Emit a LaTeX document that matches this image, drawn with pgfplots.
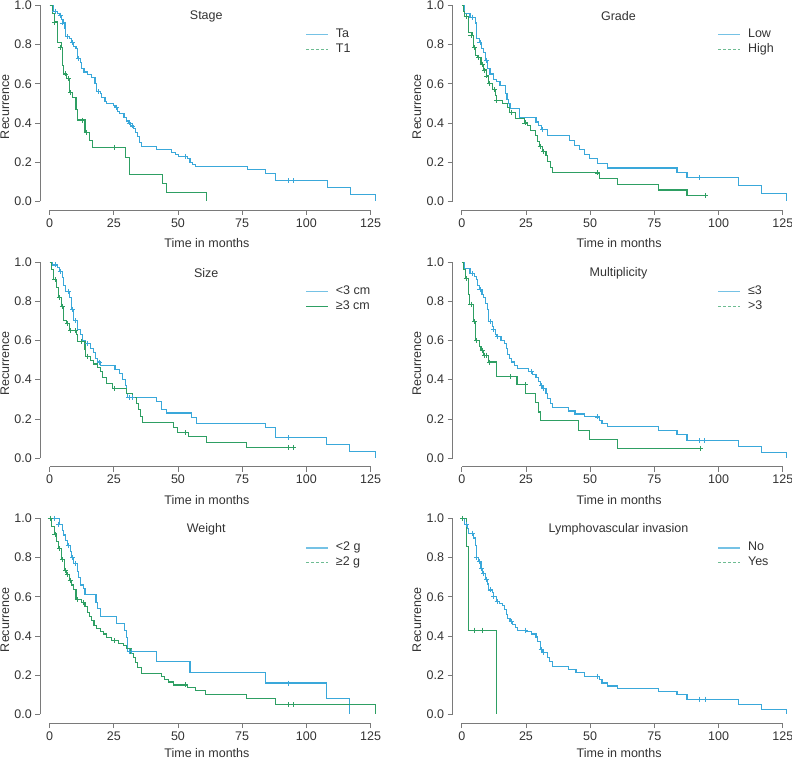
\documentclass[border=0pt]{standalone}
\usepackage{pgfplots}
\pgfplotsset{compat=1.18}
\usepackage{fontspec}
\setmainfont{Liberation Sans}
\definecolor{axisgray}{HTML}{7A7A7A}
\definecolor{labelgray}{HTML}{333333}
\definecolor{kmblue}{HTML}{3AA8DA}
\definecolor{kmgreen}{HTML}{2E9F63}
\newcommand{\fs}{\fontsize{12.5}{14}\selectfont}
\pgfplotsset{
  kmpanel/.style={
    scale only axis, width=338pt, height=206.6pt,
    xmin=-3.6, xmax=128, ymin=-0.044, ymax=1.01,
    axis lines*=left, axis line style={draw=none},
    xtick={0,25,50,75,100,125}, ytick={0,0.2,0.4,0.6,0.8,1.0},
    tick align=outside, major tick length=5pt,
    tick style={axisgray, line width=0.7pt},
    ticklabel style={font=\fs, text=labelgray},
    /pgf/number format/assume math mode=true,
    yticklabel style={/pgf/number format/.cd, fixed, fixed zerofill, precision=1},
    xlabel={Time in months}, ylabel={Recurrence},
    every axis x label/.style={at={([yshift=-33pt]axis description cs:0.493,0)}, anchor=center, font=\fs, text=labelgray},
    every axis y label/.style={at={([xshift=-35.5pt]axis description cs:0,0.5)}, rotate=90, anchor=center, font=\fs, text=labelgray},
    every axis title/.style={at={(axis description cs:0.491,0.938)}, anchor=center, font=\fs, text=labelgray},
    clip=false,
    legend cell align=left,
    legend style={at={(axis description cs:0.784,0.878)}, anchor=north west, draw=none, fill=none,
      font=\fs, text=labelgray, row sep=2.7pt, column sep=7pt, inner sep=0pt,
      nodes={inner sep=0pt, text height=9pt, text depth=3pt}},
    legend image code/.code={\draw[#1] (0pt,0pt) -- (22pt,0pt);},
    after end axis/.code={
      \draw[axisgray, line width=0.7pt] (axis cs:0,-0.044) -- (axis cs:125,-0.044);
      \draw[axisgray, line width=0.7pt] (axis cs:-3.6,0) -- (axis cs:-3.6,1);
    },
  },
  bl/.style={kmblue, line width=1.1pt, const plot, no marks, forget plot},
  gr/.style={kmgreen, line width=1.1pt, const plot, no marks, forget plot},
  bc/.style={kmblue, only marks, mark=+, mark size=2.5pt, line width=0.8pt, forget plot},
  gc/.style={kmgreen, only marks, mark=+, mark size=2.5pt, line width=0.8pt, forget plot},
  lb/.style={kmblue!70!white, line width=1.4pt},
  lgd/.style={kmgreen!70!white, line width=1.4pt, dash pattern=on 3pt off 2pt},
  lgs/.style={kmgreen, line width=1.4pt},
}
\begin{document}
\begin{tikzpicture}
\path[use as bounding box] (0pt,0pt) rectangle (792pt,761pt);

% ---------------- Stage
\begin{axis}[kmpanel, at={(40.3pt,551pt)}, anchor=south west, title={Stage}]
\addlegendimage{lb}\addlegendentry{Ta}
\addlegendimage{lgd}\addlegendentry{T1}
\addplot[bl] coordinates {(0,1) (1.5,0.97) (3,0.96) (4,0.95) (4.5,0.93) (5.4,0.91) (6,0.88) (6.3,0.84) (7.6,0.83) (8.4,0.81) (9.3,0.79) (10.3,0.78) (10.8,0.73) (11.9,0.71) (12.5,0.68) (13.4,0.66) (14.7,0.645) (16.4,0.63) (17.7,0.60) (18.4,0.56) (19.7,0.55) (20.3,0.53) (21.6,0.51) (22,0.50) (24.8,0.49) (25.5,0.48) (26.4,0.46) (27.4,0.45) (29,0.43) (29.8,0.41) (30.7,0.40) (31.6,0.385) (32.6,0.37) (33.3,0.35) (34.3,0.33) (35,0.30) (35.9,0.28) (41.7,0.265) (47.6,0.25) (48.9,0.24) (50.2,0.23) (53.7,0.22) (54.7,0.20) (55.7,0.19) (57,0.177) (77,0.162) (84,0.143) (88,0.105) (108.2,0.07) (117,0.035) (127,0)};
\addplot[bc] coordinates {(2.1,0.97) (4.1,0.95) (5,0.91) (6.9,0.84) (8.9,0.81) (11.2,0.73) (19,0.56) (26.2,0.48) (31.1,0.40) (32.3,0.385) (52.8,0.23) (93,0.105) (95,0.105)};
\addplot[gr] coordinates {(0,1) (1.2,0.96) (1.9,0.915) (3.1,0.81) (4.5,0.785) (5,0.695) (5.6,0.65) (6.7,0.625) (7.7,0.555) (9,0.53) (10.3,0.47) (11,0.415) (13.8,0.35) (15.5,0.31) (16.7,0.275) (29.4,0.225) (31,0.135) (43.9,0.09) (45.6,0.045) (61.2,0)};
\addplot[gc] coordinates {(1.9,0.915) (4.1,0.785) (6.3,0.65) (7.3,0.625) (8.3,0.555) (12.9,0.415) (14.2,0.35) (25.3,0.275)};
\end{axis}

% ---------------- Grade
\begin{axis}[kmpanel, at={(452.5pt,551pt)}, anchor=south west, title={Grade}]
\addlegendimage{lb}\addlegendentry{Low}
\addlegendimage{lgd}\addlegendentry{High}
\addplot[bl] coordinates {(0,1) (1,0.96) (3.2,0.94) (5.2,0.91) (5.8,0.83) (6.9,0.81) (7.8,0.78) (8.4,0.76) (9.2,0.72) (10.1,0.68) (11,0.65) (12.3,0.62) (13.6,0.61) (14.9,0.59) (17,0.55) (17.6,0.52) (18.2,0.50) (18.8,0.475) (22.4,0.43) (28.9,0.405) (30,0.385) (30.9,0.365) (33.5,0.335) (41.9,0.31) (43.9,0.285) (45.8,0.265) (47.8,0.24) (49.7,0.22) (52.9,0.195) (56.9,0.17) (83.8,0.147) (87.7,0.122) (107.7,0.082) (116.6,0.04) (126.6,0)};
\addplot[bc] coordinates {(4,0.94) (7.1,0.81) (9.7,0.72) (31.5,0.365) (92.5,0.122)};
\addplot[gr] coordinates {(0,1) (0.8,0.97) (1,0.945) (2.7,0.86) (4,0.845) (4.6,0.785) (5.3,0.745) (6.2,0.735) (7.5,0.70) (8.4,0.67) (9.5,0.64) (10.4,0.60) (12.1,0.57) (13.1,0.54) (13.4,0.515) (16,0.50) (17.9,0.48) (18.6,0.455) (20.8,0.425) (24.4,0.40) (25.7,0.385) (26.6,0.36) (28.7,0.335) (29.6,0.305) (30.2,0.28) (31.5,0.255) (32.8,0.235) (33.5,0.205) (34.4,0.175) (35.4,0.145) (53.6,0.115) (60.7,0.085) (76.6,0.058) (87.7,0.03) (95.1,0.03)};
\addplot[gc] coordinates {(1.7,0.945) (3.6,0.845) (4.9,0.785) (6.6,0.735) (7.9,0.70) (8.8,0.67) (9.7,0.64) (10.8,0.60) (12.7,0.57) (13.6,0.515) (19.2,0.455) (24.6,0.40) (30.5,0.28) (31.8,0.255) (53,0.145) (95,0.03)};
\end{axis}

% ---------------- Size
\begin{axis}[kmpanel, at={(40.3pt,294.3pt)}, anchor=south west, title={Size}]
\addlegendimage{lb}\addlegendentry{<3 cm}
\addlegendimage{lgs}\addlegendentry{≥3 cm}
\addplot[bl] coordinates {(0,1) (1.1,0.985) (3,0.97) (3.8,0.95) (5,0.92) (5.6,0.88) (6.3,0.85) (7.7,0.82) (8.6,0.76) (9.5,0.70) (10.8,0.655) (11.9,0.63) (12.8,0.60) (13.8,0.585) (16,0.56) (17.1,0.54) (18,0.51) (18.6,0.49) (19.7,0.47) (25.5,0.45) (27.2,0.43) (28.5,0.40) (29.4,0.37) (30,0.33) (30.4,0.31) (41.7,0.29) (43.7,0.25) (45.6,0.23) (55.1,0.205) (57.3,0.177) (84,0.155) (88,0.103) (108,0.07) (116.8,0.035) (127,0)};
\addplot[bc] coordinates {(2.2,0.985) (4.1,0.95) (7.3,0.85) (9,0.76) (10.2,0.70) (14.7,0.585) (19.3,0.49) (30.9,0.31) (32.2,0.31) (93,0.103)};
\addplot[gr] coordinates {(0,1) (0.8,0.96) (1.5,0.91) (2.8,0.87) (3.4,0.82) (4.5,0.775) (5.6,0.70) (6.7,0.685) (7.6,0.65) (10.6,0.63) (10.8,0.595) (13.8,0.555) (14.1,0.52) (15.8,0.50) (17.1,0.48) (18.6,0.46) (19.7,0.44) (20.7,0.41) (22,0.38) (24.6,0.355) (30,0.33) (32.4,0.31) (33.7,0.28) (34.6,0.25) (35.3,0.21) (36.3,0.18) (48.2,0.155) (49.9,0.13) (54.1,0.11) (61.2,0.08) (76.8,0.055) (95.2,0.055)};
\addplot[gc] coordinates {(2.1,0.91) (3.8,0.82) (5,0.775) (7.1,0.685) (8.3,0.65) (10,0.65) (12.5,0.595) (14.7,0.52) (25.3,0.355) (52.8,0.13) (93,0.055) (95,0.055)};
\end{axis}

% ---------------- Multiplicity
\begin{axis}[kmpanel, at={(452.5pt,294.3pt)}, anchor=south west, title={Multiplicity}]
\addlegendimage{lb}\addlegendentry{≤3}
\addlegendimage{lgd}\addlegendentry{>3}
\addplot[bl] coordinates {(0,1) (1,0.965) (3.2,0.94) (4.9,0.925) (5.6,0.91) (6.1,0.88) (6.9,0.86) (7.9,0.835) (8.4,0.82) (9.2,0.79) (10.1,0.76) (10.5,0.695) (11.8,0.67) (12.3,0.655) (13.1,0.63) (13.6,0.62) (15.3,0.60) (16.6,0.585) (17.3,0.56) (17.9,0.53) (18.6,0.51) (19.5,0.49) (20.5,0.47) (21.8,0.455) (26.1,0.44) (27.4,0.425) (28.9,0.41) (30,0.39) (30.6,0.37) (31.5,0.355) (32.8,0.33) (33.5,0.305) (34.4,0.28) (35.4,0.26) (41.7,0.24) (44.1,0.225) (47.8,0.21) (53.6,0.19) (54.6,0.175) (56.6,0.16) (76.6,0.14) (83.8,0.12) (87.7,0.088) (107.7,0.06) (116.6,0.03) (126.6,0)};
\addplot[bc] coordinates {(4,0.94) (7.1,0.86) (11,0.695) (12.5,0.655) (14,0.62) (27,0.44) (31.1,0.37) (31.9,0.355) (53,0.21) (92.5,0.088) (94.5,0.088)};
\addplot[gr] coordinates {(0,1) (0.8,0.96) (1.3,0.915) (2.7,0.835) (3,0.785) (4.6,0.695) (5.5,0.60) (6.9,0.57) (7.5,0.55) (8.4,0.525) (10.4,0.49) (13.7,0.415) (21.5,0.375) (24.7,0.33) (28.7,0.285) (30,0.235) (30.6,0.19) (45.5,0.14) (49.7,0.095) (60.7,0.048) (93.2,0.048)};
\addplot[gc] coordinates {(1.7,0.915) (3.6,0.785) (4.9,0.695) (5.8,0.60) (7.9,0.55) (8.8,0.525) (9.7,0.525) (10.8,0.49) (19,0.415) (24.7,0.375) (93,0.048)};
\end{axis}

% ---------------- Weight
\begin{axis}[kmpanel, at={(40.3pt,38pt)}, anchor=south west, title={Weight},
  every axis x label/.append style={at={([yshift=-30pt]axis description cs:0.493,0)}}]
\addlegendimage{lb}\addlegendentry{<2 g}
\addlegendimage{lgd}\addlegendentry{≥2 g}
\addplot[bl] coordinates {(0,1) (3.8,0.97) (5,0.94) (5.6,0.915) (6.3,0.885) (7.1,0.86) (8,0.83) (8.4,0.80) (9.5,0.77) (10.8,0.73) (11.2,0.70) (12.2,0.66) (13.2,0.64) (13.8,0.61) (18.1,0.57) (18.8,0.54) (19.7,0.50) (25.9,0.465) (29.1,0.43) (29.8,0.39) (30.4,0.32) (41.7,0.268) (54.7,0.214) (84,0.16) (107.7,0.08) (116.8,0)};
\addplot[bc] coordinates {(1.9,1.0) (3.5,0.97) (7.3,0.86) (9,0.80) (10.2,0.77) (31,0.32) (31.7,0.32) (93,0.16)};
\addplot[gr] coordinates {(0,1) (0.8,0.96) (1.8,0.92) (2.8,0.88) (3.4,0.845) (4.5,0.79) (5.8,0.735) (6.7,0.715) (7.6,0.685) (8.6,0.66) (9.5,0.635) (10.3,0.585) (12.5,0.57) (13.8,0.55) (14.7,0.52) (15.5,0.50) (16.4,0.48) (17.3,0.455) (18.4,0.44) (19.7,0.425) (21,0.41) (22,0.39) (24.2,0.375) (26.8,0.36) (28.7,0.35) (30,0.335) (31.7,0.31) (32.6,0.29) (33.3,0.265) (34.3,0.24) (35.9,0.21) (43.7,0.195) (44.6,0.18) (46.3,0.165) (48.2,0.15) (53.7,0.135) (56.7,0.12) (60.6,0.10) (76.8,0.08) (88,0.05) (127,0)};
\addplot[gc] coordinates {(0.2,1.0) (2.1,0.92) (3.8,0.845) (5,0.79) (6.3,0.735) (7.1,0.715) (8,0.685) (10.8,0.585) (13.2,0.57) (25.3,0.375) (52.8,0.15) (93,0.05) (95,0.05)};
\end{axis}

% ---------------- Lymphovascular invasion
\begin{axis}[kmpanel, at={(452.5pt,38pt)}, anchor=south west, title={Lymphovascular invasion},
  every axis x label/.append style={at={([yshift=-30pt]axis description cs:0.493,0)}}]
\addlegendimage{lb}\addlegendentry{No}
\addlegendimage{lgd}\addlegendentry{Yes}
\addplot[bl] coordinates {(0,1) (1,0.97) (2.1,0.95) (2.7,0.925) (4.5,0.90) (5.2,0.86) (5.6,0.80) (6.5,0.78) (7.5,0.745) (8.2,0.72) (9.2,0.69) (10.1,0.665) (10.5,0.635) (11.8,0.62) (12.3,0.60) (13.4,0.575) (14.7,0.565) (15.7,0.555) (16.6,0.535) (17.3,0.51) (17.9,0.49) (18.8,0.475) (19.9,0.46) (21.1,0.445) (21.8,0.43) (25,0.425) (27,0.41) (28.9,0.395) (29.6,0.37) (30.5,0.33) (31.5,0.315) (33.5,0.29) (34.1,0.27) (35.4,0.245) (41.7,0.23) (44.5,0.215) (47.8,0.195) (53.6,0.18) (54.6,0.16) (56.6,0.145) (60.7,0.13) (76.6,0.118) (83.8,0.102) (87.7,0.078) (107.7,0.052) (116.6,0.026) (126.6,0)};
\addplot[bc] coordinates {(1.9,0.97) (4,0.925) (5.8,0.80) (6.9,0.78) (7.8,0.745) (8.4,0.72) (9.7,0.69) (11,0.635) (12.5,0.60) (13.8,0.575) (19.2,0.475) (24.8,0.43) (30.9,0.33) (31.9,0.315) (53,0.195) (92.5,0.078) (94.9,0.078)};
\addplot[gr] coordinates {(0,1) (1.9,0.857) (2.6,0.43) (13.7,0)};
\addplot[gc] coordinates {(0.4,1.0) (4.9,0.43) (7.9,0.43)};
\end{axis}
\end{tikzpicture}
\end{document}
